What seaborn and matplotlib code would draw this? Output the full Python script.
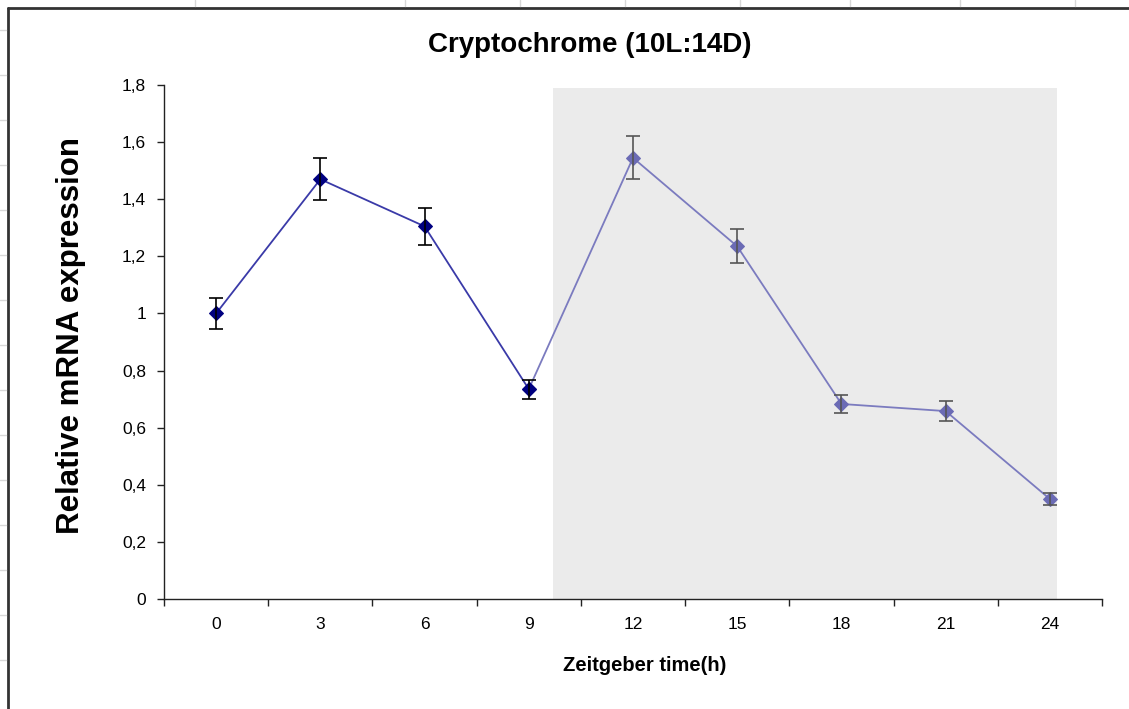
import matplotlib
matplotlib.use("Agg")
import matplotlib.pyplot as plt
from matplotlib.lines import Line2D
import seaborn as sns
import pandas as pd
import numpy as np

# Zeitgeber time points and mean relative expression with error (SEM)
zt_labels = ["0", "3", "6", "9", "12", "15", "18", "21", "24"]
expression = [1.00, 1.47, 1.305, 0.735, 1.545, 1.235, 0.683, 0.658, 0.350]
error = [0.053, 0.073, 0.065, 0.033, 0.075, 0.060, 0.033, 0.035, 0.020]
y_ticks = [0, 0.2, 0.4, 0.6, 0.8, 1.0, 1.2, 1.4, 1.6, 1.8]
y_tick_labels = ["0", "0,2", "0,4", "0,6", "0,8", "1", "1,2", "1,4", "1,6", "1,8"]

# light phase: ZT0-ZT9, dark phase: ZT9-ZT24
light_idx = [0, 1, 2, 3]
dark_idx = [3, 4, 5, 6, 7, 8]

sns.set_style("white")
plt.rcParams["font.family"] = ["Liberation Sans", "DejaVu Sans"]
plt.rcParams["text.color"] = "black"
plt.rcParams["axes.labelcolor"] = "black"
plt.rcParams["xtick.color"] = "black"
plt.rcParams["ytick.color"] = "black"

W, H = 1129, 709
x0, x1, y0, y1 = 164, 1102, 599, 85

fig = plt.figure(figsize=(W / 100, H / 100), dpi=100)
ax = fig.add_axes([x0 / W, 1 - y0 / H, (x1 - x0) / W, (y0 - y1) / H])

df = pd.DataFrame({"pos": np.arange(len(zt_labels)), "expr": expression, "err": error})
light = df.iloc[light_idx]
dark = df.iloc[dark_idx]

# shaded dark period
ax.axvspan(3.23, 8.07, ymin=0, ymax=1.79 / 1.8, color="#ebebeb", zorder=0, lw=0)

sns.lineplot(data=dark, x="pos", y="expr", ax=ax, color="#7b7bbf", lw=1.3,
             marker="D", markersize=7.5, markeredgecolor="#6b6bb5",
             markerfacecolor="#6b6bb5", zorder=3)
ax.errorbar(dark["pos"].iloc[1:], dark["expr"].iloc[1:], yerr=dark["err"].iloc[1:],
            fmt="none", ecolor="#555555", elinewidth=1.2, capsize=5, capthick=1.2, zorder=4)

sns.lineplot(data=light, x="pos", y="expr", ax=ax, color="#3a3aa8", lw=1.3,
             marker="D", markersize=7.5, markeredgecolor="#000080",
             markerfacecolor="#000080", zorder=5)
ax.errorbar(light["pos"], light["expr"], yerr=light["err"],
            fmt="none", ecolor="black", elinewidth=1.2, capsize=5, capthick=1.2, zorder=6)

ax.set_xlim(-0.5, len(zt_labels) - 0.5)
ax.set_ylim(0, 1.8)

# category axis: tick marks between categories, labels at centers
ax.set_xticks(np.arange(-0.5, len(zt_labels), 1.0))
ax.set_xticklabels([])
ax.set_xticks(np.arange(len(zt_labels)), minor=True)
ax.set_xticklabels(zt_labels, minor=True, fontsize=12.5)
ax.tick_params(axis="x", which="major", direction="out", length=5, width=1, color="#222222", bottom=True)
ax.tick_params(axis="x", which="minor", length=0, pad=13)

ax.set_yticks(y_ticks)
ax.set_yticklabels(y_tick_labels, fontsize=12.5)
ax.tick_params(axis="y", direction="out", length=5, width=1, color="#222222", left=True, pad=8)

for side in ["top", "right"]:
    ax.spines[side].set_visible(False)
for side in ["left", "bottom"]:
    ax.spines[side].set_color("#222222")
    ax.spines[side].set_linewidth(1.0)

ax.set_xlabel("Zeitgeber time(h)", fontsize=14.5, fontweight="bold")
ax.set_ylabel("Relative mRNA expression", fontsize=22.5, fontweight="bold")
ax.xaxis.set_label_coords((645 - x0) / (x1 - x0), -(656 - y0) / (y0 - y1))
ax.yaxis.set_label_coords(-(x0 - 86) / (x1 - x0), (y0 - 336) / (y0 - y1))

fig.text(590 / W, 1 - 52 / H, "Cryptochrome (10L:14D)", ha="center", va="baseline",
         fontsize=20, fontweight="bold")

# chart frame
fig.add_artist(Line2D([8 / W, 8 / W], [0, 1 - 8 / H], transform=fig.transFigure,
                      color="#333333", lw=2))
fig.add_artist(Line2D([8 / W, 1], [1 - 8 / H, 1 - 8 / H], transform=fig.transFigure,
                      color="#333333", lw=2))
# faint sheet gridlines outside the frame
for gx in [195, 405, 520, 625, 740, 850, 960, 1075]:
    fig.add_artist(Line2D([gx / W, gx / W], [1 - 6 / H, 1], transform=fig.transFigure,
                          color="#d8d8d8", lw=1))
for gy in [30, 75, 120, 165, 210, 255, 300, 345, 390, 435, 480, 525, 570, 615, 660]:
    fig.add_artist(Line2D([0, 6 / W], [1 - gy / H, 1 - gy / H], transform=fig.transFigure,
                          color="#d8d8d8", lw=1))

fig.savefig("out.png", dpi=100)
